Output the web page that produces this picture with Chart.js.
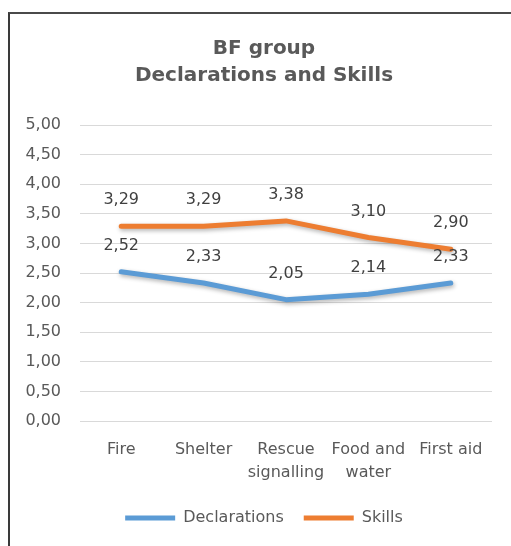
<!DOCTYPE html>
<html>
<head>
<meta charset="utf-8">
<script src="https://cdn.jsdelivr.net/npm/chart.js@4.4.1/dist/chart.umd.min.js"></script>
<style>
  html, body { margin: 0; padding: 0; background: #fff; overflow: hidden; }
  #wrap { position: relative; width: 511px; height: 546px; }
  #frame {
    position: absolute; left: 8px; top: 12px; right: -10px; bottom: -10px;
    border-left: 2px solid #3a3a3a; border-top: 2px solid #4a4a4a;
    pointer-events: none;
  }
</style>
</head>
<body>
<div id="wrap">
  <canvas id="chart"></canvas>
  <div id="frame"></div>
</div>
<script>
const categories = ['Fire', 'Shelter', ['Rescue', 'signalling'], ['Food and', 'water'], 'First aid'];
const declarations = [2.52, 2.33, 2.05, 2.14, 2.33];
const skills = [3.29, 3.29, 3.38, 3.10, 2.90];
const yTicks = [0, 0.5, 1, 1.5, 2, 2.5, 3, 3.5, 4, 4.5, 5];
const titleLines = ['BF group', 'Declarations and Skills'];

const FONT = 'DejaVu Sans';
const fmt = v => v.toFixed(2).replace('.', ',');

// value labels over each point (no datalabels plugin offline)
const valueLabels = {
  id: 'valueLabels',
  afterDatasetsDraw(chart) {
    const ctx = chart.ctx;
    ctx.save();
    ctx.font = '16px "' + FONT + '"';
    ctx.fillStyle = '#404040';
    ctx.textAlign = 'center';
    ctx.textBaseline = 'middle';
    chart.data.datasets.forEach((ds, i) => {
      chart.getDatasetMeta(i).data.forEach((pt, j) => {
        ctx.fillText(fmt(ds.data[j]), pt.x, pt.y - 26);
      });
    });
    ctx.restore();
  }
};

// soft shadow under the lines, like the office chart
const lineShadow = {
  id: 'lineShadow',
  beforeDatasetDraw(chart) {
    const c = chart.ctx;
    c.save();
    c.shadowColor = 'rgba(0,0,0,0.3)';
    c.shadowBlur = 4;
    c.shadowOffsetX = 1;
    c.shadowOffsetY = 2;
  },
  afterDatasetDraw(chart) {
    chart.ctx.restore();
  }
};

new Chart(document.getElementById('chart'), {
  type: 'line',
  data: {
    labels: categories,
    datasets: [
      {
        label: 'Declarations',
        data: declarations,
        borderColor: '#5B9BD5',
        backgroundColor: '#5B9BD5',
        borderWidth: 5,
        borderCapStyle: 'round',
        borderJoinStyle: 'round',
        pointRadius: 0,
        tension: 0
      },
      {
        label: 'Skills',
        data: skills,
        borderColor: '#ED7D31',
        backgroundColor: '#ED7D31',
        borderWidth: 5,
        borderCapStyle: 'round',
        borderJoinStyle: 'round',
        pointRadius: 0,
        tension: 0
      }
    ]
  },
  options: {
    responsive: true,
    maintainAspectRatio: false,
    animation: false,
    layout: { padding: { left: 36, right: 19, top: 0, bottom: 10 } },
    plugins: {
      title: {
        display: true,
        text: titleLines,
        color: '#595959',
        font: { family: FONT, size: 20, weight: 'bold', lineHeight: 1.35 },
        padding: { top: 35, bottom: 36 }
      },
      legend: {
        position: 'bottom',
        labels: {
          usePointStyle: true,
          pointStyle: 'line',
          pointStyleWidth: 50,
          color: '#595959',
          font: { family: FONT, size: 16 },
          padding: 20
        }
      },
      tooltip: { enabled: false }
    },
    scales: {
      x: {
        offset: true,
        grid: { display: false },
        border: { display: false },
        ticks: {
          color: '#595959',
          font: { family: FONT, size: 16, lineHeight: 1.4 },
          padding: 10,
          maxRotation: 0,
          autoSkip: false
        },
        afterFit(s) { s.height = 69; }
      },
      y: {
        min: 0,
        max: 5,
        grid: { color: '#d9d9d9', drawTicks: false },
        border: { display: false },
        ticks: {
          color: '#595959',
          font: { family: FONT, size: 16 },
          padding: 19,
          callback: v => fmt(v)
        },
        afterBuildTicks(s) { s.ticks = yTicks.map(v => ({ value: v })); },
        afterFit(s) { s.width = 44; },
        // labels are wider than the narrow axis box; don't clip them
        afterUpdate(s) { s._computeLabelArea = () => undefined; }
      }
    }
  },
  plugins: [lineShadow, valueLabels]
});
</script>
</body>
</html>
